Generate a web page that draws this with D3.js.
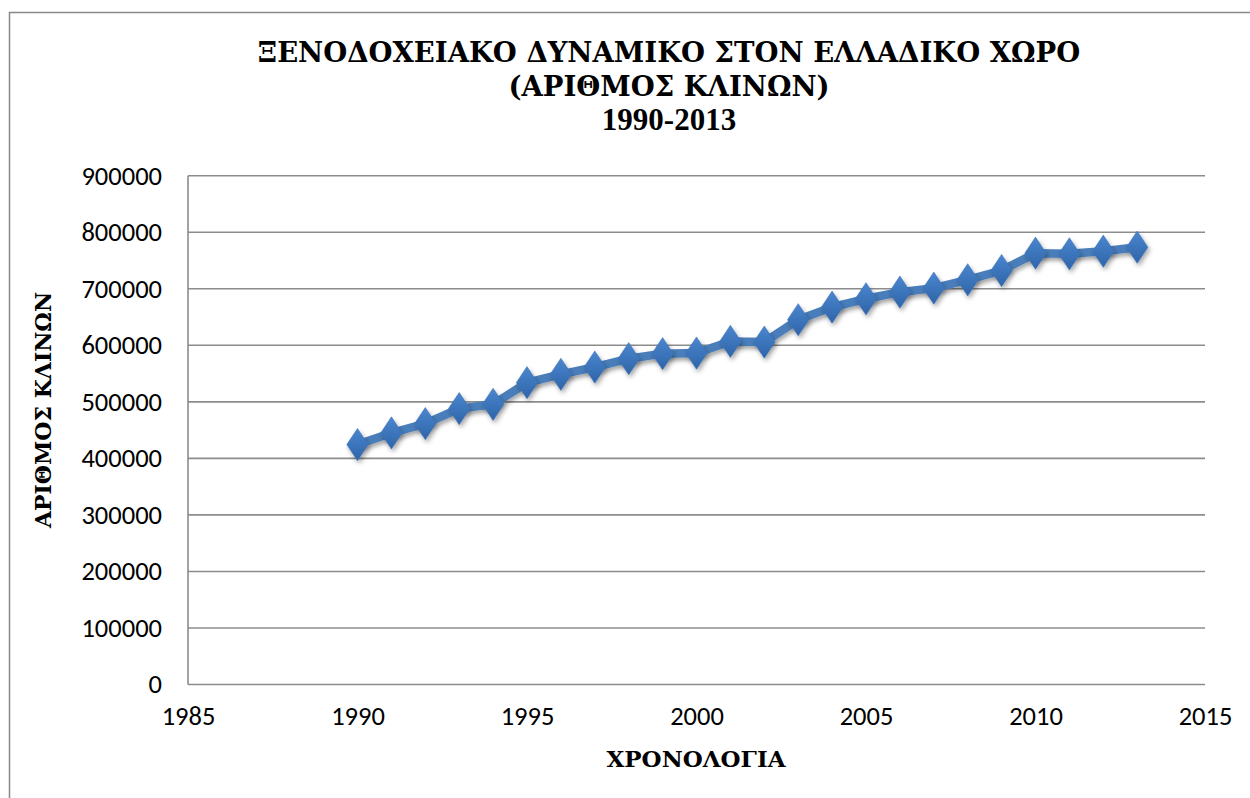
<!DOCTYPE html>
<html>
<head>
<meta charset="utf-8">
<script src="https://cdn.jsdelivr.net/npm/d3@7"></script>
<style>
  html, body { margin: 0; padding: 0; background: #fff; }
  svg { display: block; }
</style>
</head>
<body>
<svg id="chart" width="1250" height="798"></svg>
<script>
const titleLines = ["ΞΕΝΟΔΟΧΕΙΑΚΟ ΔΥΝΑΜΙΚΟ ΣΤΟΝ ΕΛΛΑΔΙΚΟ ΧΩΡΟ", "(ΑΡΙΘΜΟΣ ΚΛΙΝΩΝ)", "1990-2013"];
const xTitle = "ΧΡΟΝΟΛΟΓΙΑ";
const yTitle = "ΑΡΙΘΜΟΣ ΚΛΙΝΩΝ";
const years = [1990,1991,1992,1993,1994,1995,1996,1997,1998,1999,2000,2001,2002,2003,2004,2005,2006,2007,2008,2009,2010,2011,2012,2013];
const beds  = [424400,444900,461500,488000,495600,533900,548600,561500,576300,585200,586200,606900,605700,645200,667500,682300,694000,701100,715900,732300,762900,761800,766400,773500];
const xTicks = [1985,1990,1995,2000,2005,2010,2015];
const yTicks = [0,100000,200000,300000,400000,500000,600000,700000,800000,900000];

const svg = d3.select("#chart");
const L = 188, R = 1205, T = 175.7, B = 684.5;
const x = d3.scaleLinear().domain([1985, 2015]).range([L, R]);
const y = d3.scaleLinear().domain([0, 900000]).range([B, T]);

const defs = svg.append("defs");
const f = defs.append("filter").attr("id","sh").attr("x","-50%").attr("y","-50%").attr("width","200%").attr("height","200%");
f.append("feDropShadow").attr("dx",1.5).attr("dy",3).attr("stdDeviation",2.2).attr("flood-color","#000").attr("flood-opacity",0.35);
const g = defs.append("linearGradient").attr("id","mk").attr("x1",0).attr("y1",0).attr("x2",0).attr("y2",1);
g.append("stop").attr("offset","0%").attr("stop-color","#4a86cf");
g.append("stop").attr("offset","100%").attr("stop-color","#2f64a8");

// outer border
svg.append("rect").attr("x",9.5).attr("y",12.5).attr("width",1260).attr("height",800)
  .attr("fill","none").attr("stroke","#888").attr("stroke-width",1.5);

// gridlines
svg.append("g").selectAll("line").data(yTicks).join("line")
  .attr("x1", L).attr("x2", R).attr("y1", d => y(d)).attr("y2", d => y(d))
  .attr("stroke", "#8c8c8c").attr("stroke-width", 1.6);

// y axis line
svg.append("line").attr("x1",L).attr("x2",L).attr("y1",T).attr("y2",B)
  .attr("stroke","#8c8c8c").attr("stroke-width",1.6);

const sans = "Carlito, Calibri, Lato, sans-serif";
const yAxis = svg.append("g").attr("transform", `translate(${L - 26},0)`)
  .call(d3.axisLeft(y).tickValues(yTicks).tickSize(0).tickPadding(0).tickFormat(d3.format("d")));
yAxis.select(".domain").remove();
yAxis.selectAll("text").attr("font-family",sans).attr("font-size",26.5).attr("fill","#000");

const xAxis = svg.append("g").attr("transform", `translate(0,${B + 22})`)
  .call(d3.axisBottom(x).tickValues(xTicks).tickSize(0).tickPadding(0).tickFormat(d3.format("d")));
xAxis.select(".domain").remove();
xAxis.selectAll("text").attr("font-family",sans).attr("font-size",26.5).attr("fill","#000");

// line
const line = d3.line().x((d,i) => x(years[i])).y(d => y(d));
svg.append("path").datum(beds).attr("d", line).attr("fill","none")
  .attr("stroke","#4a7ebb").attr("stroke-width",8.5).attr("stroke-linejoin","round")
  .attr("filter","url(#sh)");

// markers
const sym = d3.symbol().type(d3.symbolDiamond).size(300);
svg.append("g").selectAll("path").data(beds).join("path")
  .attr("transform",(d,i) => `translate(${x(years[i])},${y(d)}) scale(1.15,1)`)
  .attr("d", sym).attr("fill","url(#mk)").attr("stroke","#3a70b5").attr("stroke-width",0.5)
  .attr("filter","url(#sh)");

// title
const serif = "'DejaVu Serif', serif";
const latinSerif = "'Liberation Serif', 'DejaVu Serif', serif";
svg.append("text").attr("x",669).attr("y",62).attr("text-anchor","middle")
  .attr("font-family",serif).attr("font-weight","bold").attr("font-size",27.5)
  .selectAll("tspan").data(titleLines).join("tspan")
  .attr("x",669).attr("dy",(d,i) => i === 0 ? 0 : 34)
  .attr("font-family",(d,i) => i === 2 ? latinSerif : serif)
  .attr("font-size",(d,i) => i === 2 ? 31 : 27.5)
  .text(d => d);

// axis titles
svg.append("text").attr("x",696).attr("y",767).attr("text-anchor","middle")
  .attr("font-family",serif).attr("font-weight","bold").attr("font-size",23).text(xTitle);
svg.append("text").attr("transform","translate(51,410) rotate(-90)").attr("text-anchor","middle")
  .attr("font-family",serif).attr("font-weight","bold").attr("font-size",22).text(yTitle);
</script>
</body>
</html>
